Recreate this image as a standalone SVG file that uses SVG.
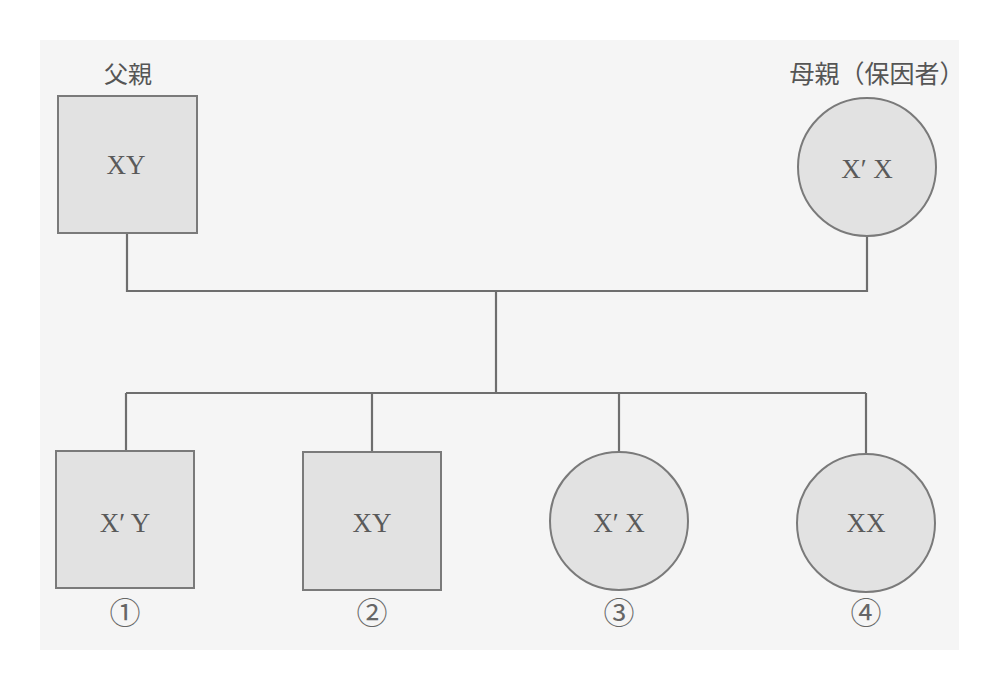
<svg xmlns="http://www.w3.org/2000/svg" width="1000" height="689" viewBox="0 0 1000 689">
<style>
.shape{fill:#e2e2e2;stroke:#7a7a7a;stroke-width:2}
.conn{fill:none;stroke:#6e6e6e;stroke-width:2.2}
.g{font-family:"Liberation Serif","Noto Serif CJK JP","Noto Sans CJK JP",serif;font-size:27px;fill:#5a5a5a;text-anchor:middle}
.t{font-family:"Noto Sans CJK JP",serif;font-size:24px;fill:#555;text-anchor:middle}
.n{font-family:"Noto Sans CJK JP",serif;font-size:31px;fill:#666;text-anchor:middle}
</style>
<rect width="1000" height="689" fill="#ffffff"/>
<rect x="40" y="40" width="919" height="610" fill="#f5f5f5"/>
<g id="connectors">
<polyline class="conn" points="127,233 127,291 867,291 867,236"/>
<line class="conn" x1="496" y1="291" x2="496" y2="393"/>
<line class="conn" x1="126" y1="393" x2="866" y2="393"/>
<line class="conn" x1="126" y1="393" x2="126" y2="451"/>
<line class="conn" x1="372" y1="393" x2="372" y2="452"/>
<line class="conn" x1="619" y1="393" x2="619" y2="452"/>
<line class="conn" x1="866" y1="393" x2="866" y2="454"/>
</g>
<g id="father">
<text class="t" x="128" y="83">父親</text>
<rect class="shape" x="58" y="96" width="139" height="137"/>
<text class="g" x="126" y="174">XY</text>
</g>
<g id="mother">
<text class="t" x="877" y="83" style="font-size:25px">母親（保因者）</text>
<circle class="shape" cx="867" cy="167" r="69"/>
<text class="g" x="867" y="178">X′ X</text>
</g>
<g id="child1">
<rect class="shape" x="56" y="451" width="138" height="137"/>
<text class="g" x="125" y="532">X′ Y</text>
<text class="n" x="125" y="624">①</text>
</g>
<g id="child2">
<rect class="shape" x="303" y="452" width="138" height="138"/>
<text class="g" x="372" y="532">XY</text>
<text class="n" x="372" y="624">②</text>
</g>
<g id="child3">
<circle class="shape" cx="619" cy="521" r="69"/>
<text class="g" x="619" y="532">X′ X</text>
<text class="n" x="619" y="624">③</text>
</g>
<g id="child4">
<circle class="shape" cx="866" cy="523" r="69"/>
<text class="g" x="866" y="532">XX</text>
<text class="n" x="866" y="624">④</text>
</g>
</svg>
